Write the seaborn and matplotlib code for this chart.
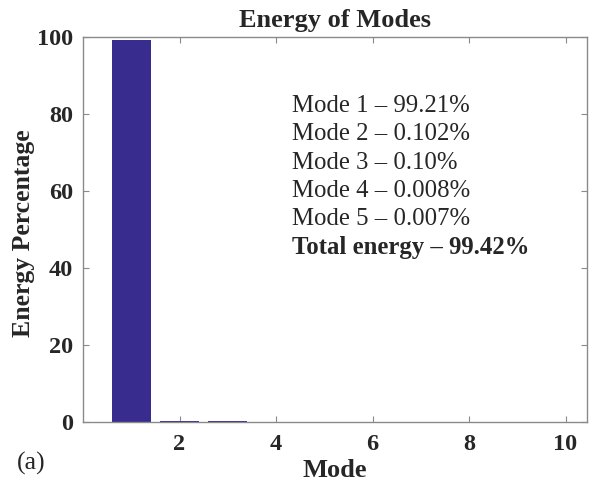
import matplotlib
matplotlib.use("Agg")
import matplotlib.pyplot as plt
import seaborn as sns
import pandas as pd

modes = [1, 2, 3, 4, 5]
energy = [99.21, 0.102, 0.10, 0.008, 0.007]
labels = ["Mode 1 \u2013 99.21%", "Mode 2 \u2013 0.102%", "Mode 3 \u2013 0.10%",
          "Mode 4 \u2013 0.008%", "Mode 5 \u2013 0.007%"]
total_label = "Total energy \u2013 99.42%"
xticks = [2, 4, 6, 8, 10]
yticks = [0, 20, 40, 60, 80, 100]

sns.set_theme(style="white")
plt.rcParams['font.family'] = ['Liberation Serif', 'DejaVu Serif']

df = pd.DataFrame({"Mode": modes, "Energy": energy})

fig = plt.figure(figsize=(5.89, 4.88), dpi=100)
ax = fig.add_axes([0.141, 0.136, 0.856, 0.788])
sns.barplot(data=df, x="Mode", y="Energy", native_scale=True, color="#382c8e",
            saturation=1, width=0.8, ax=ax, edgecolor="#382c8e", linewidth=0)

ax.set_xlim(0, 10.45)
ax.set_ylim(0, 100)
ax.set_xticks(xticks)
ax.set_yticks(yticks)
ax.set_xticklabels([str(t) for t in xticks], fontsize=17.5, fontweight="bold")
ax.set_yticklabels([str(t) for t in yticks], fontsize=17.5, fontweight="bold")
ax.tick_params(direction="in", length=4, width=0.8, color="#8a8a8a",
               top=True, right=True, bottom=True, left=True)
ax.tick_params(axis="x", pad=9)
ax.tick_params(axis="y", pad=7)
for s in ax.spines.values():
    s.set_color("#8a8a8a")
    s.set_linewidth(1.0)
    s.set_visible(True)

ax.set_xlabel("Mode", fontsize=19, fontweight="bold", labelpad=3)
ax.set_ylabel("Energy Percentage", fontsize=18.5, fontweight="bold", labelpad=0)
ax.yaxis.set_label_coords(-0.095, 0.49)
ax.set_title("Energy of Modes", fontsize=19, fontweight="bold", pad=7)

y0 = 0.805
dy = 0.0736
for i, t in enumerate(labels):
    ax.text(0.415, y0 - i * dy, t, transform=ax.transAxes, fontsize=17.8,
            va="baseline", ha="left")
ax.text(0.415, y0 - len(labels) * dy, total_label, transform=ax.transAxes,
        fontsize=17.8, fontweight="bold", va="baseline", ha="left")

fig.text(0.029, 0.05, "(a)", fontsize=18.5, va="center", ha="left")

fig.savefig("out.png", dpi=100)
